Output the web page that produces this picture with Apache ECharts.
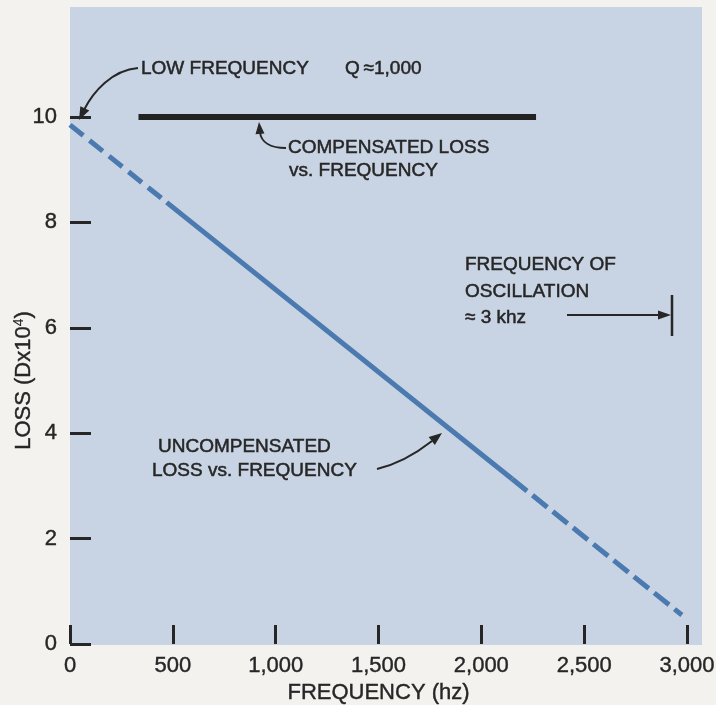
<!DOCTYPE html>
<html><head><meta charset="utf-8">
<script src="https://cdn.jsdelivr.net/npm/echarts@6/dist/echarts.min.js"></script>
<style>html,body{margin:0;padding:0;background:#f4f2ee;}#c{width:716px;height:705px;}</style>
</head><body><div id="c"></div>
<script>
// ---- data ----
const xTicks = [0, 500, 1000, 1500, 2000, 2500, 3000];
const yTicks = [0, 2, 4, 6, 8, 10];
const compensatedFreq = [333, 2266];
const compensatedLoss = [10, 10];
const uncompDashStartFreq = [0, 470];
const uncompDashStartLoss = [9.85, 8.38];
const uncompSolidFreq = [470, 2150];
const uncompSolidLoss = [8.38, 3.13];
const uncompDashEndFreq = [2150, 2975];
const uncompDashEndLoss = [3.13, 0.55];

const INK = '#262626';
const BLUE = '#4a7ab0';
const FONT = 'Liberation Sans, Arial, sans-serif';

function pairs(xs, ys) { return xs.map((x, i) => [x, ys[i]]); }
function head(tip, from, len, half) {
  const dx = tip[0] - from[0], dy = tip[1] - from[1];
  const d = Math.hypot(dx, dy); const ux = dx / d, uy = dy / d;
  const bx = tip[0] - ux * len, by = tip[1] - uy * len;
  return { type: 'polygon', z: 50, shape: { points: [tip, [bx - uy * half, by + ux * half], [bx + uy * half, by - ux * half]] }, style: { fill: INK } };
}
function txt(x, y, s, size) {
  return { type: 'text', z: 50, x: x, y: y, style: { text: s, fill: INK, stroke: INK, lineWidth: 0.5, font: (size || 19) + 'px ' + FONT, textVerticalAlign: 'middle', textAlign: 'left' } };
}
function curve(x1, y1, c1x, c1y, c2x, c2y, x2, y2) {
  return { type: 'bezierCurve', z: 50, shape: { x1: x1, y1: y1, cpx1: c1x, cpy1: c1y, cpx2: c2x, cpy2: c2y, x2: x2, y2: y2 }, style: { stroke: INK, lineWidth: 2, fill: null } };
}

const chart = echarts.init(document.getElementById('c'));
chart.setOption({
  backgroundColor: '#f4f2ee',
  animation: false,
  grid: { left: 70, right: 29, top: 117, bottom: 61, containLabel: false, outerBoundsMode: 'none' },
  xAxis: {
    type: 'value', min: xTicks[0], max: xTicks[xTicks.length - 1], interval: 500,
    axisLine: { show: false },
    axisTick: { show: true, inside: true, length: 19, lineStyle: { color: INK, width: 3 } },
    splitLine: { show: false },
    axisLabel: { fontSize: 22, color: INK, fontFamily: FONT, margin: 11, textBorderColor: INK, textBorderWidth: 0.4,
      formatter: v => v.toLocaleString('en-US') },
    name: 'FREQUENCY (hz)', nameLocation: 'middle', nameGap: 38, nameMoveOverlap: false,
    nameTextStyle: { fontSize: 22, color: INK, fontFamily: FONT, textBorderColor: INK, textBorderWidth: 0.4 }
  },
  yAxis: {
    type: 'value', min: yTicks[0], max: yTicks[yTicks.length - 1], interval: 2, offset: 3,
    axisLine: { show: false },
    axisTick: { show: true, inside: true, length: 21, lineStyle: { color: INK, width: 3 } },
    splitLine: { show: false },
    axisLabel: { fontSize: 22, color: INK, fontFamily: FONT, margin: 10, textBorderColor: INK, textBorderWidth: 0.4 },
    name: '{n|LOSS (Dx10}{s|4}{n|)}', nameLocation: 'middle', nameGap: 32, nameRotate: 90, nameMoveOverlap: false,
    nameTextStyle: {
      rich: {
        n: { fontSize: 22, color: INK, fontFamily: FONT, textBorderColor: INK, textBorderWidth: 0.4 },
        s: { fontSize: 14, color: INK, fontFamily: FONT, verticalAlign: 'top', padding: [0, 0, 9, 0] }
      }
    }
  },
  series: [
    { type: 'line', data: pairs(compensatedFreq, compensatedLoss), symbol: 'none', clip: false, z: 5,
      lineStyle: { color: '#222222', width: 6, cap: 'butt' } },
    { type: 'line', data: pairs(uncompDashStartFreq, uncompDashStartLoss), symbol: 'none', clip: false,
      lineStyle: { color: BLUE, width: 5, type: [17, 8], cap: 'butt' } },
    { type: 'line', data: pairs(uncompSolidFreq, uncompSolidLoss), symbol: 'none', clip: false,
      lineStyle: { color: BLUE, width: 5, cap: 'butt' } },
    { type: 'line', data: pairs(uncompDashEndFreq, uncompDashEndLoss), symbol: 'none', clip: false,
      lineStyle: { color: BLUE, width: 5, type: [19, 7], cap: 'butt' } }
  ],
  graphic: [
    { type: 'rect', z: -100, shape: { x: 70, y: 7, width: 632, height: 638 }, style: { fill: '#c8d4e3' } },
    // LOW FREQUENCY
    txt(141, 69, 'LOW FREQUENCY'),
    txt(345, 69, 'Q\u2009\u22481,000'),
    curve(138, 68, 112, 70, 93, 92, 84, 110),
    head([79, 120], [86, 106], 13, 5),
    // COMPENSATED
    txt(288, 148, 'COMPENSATED LOSS'),
    txt(289, 171, 'vs. FREQUENCY'),
    curve(286, 148, 270, 148, 261, 142, 260, 132),
    head([259, 122], [260, 134], 12, 4.5),
    // FREQUENCY OF OSCILLATION
    txt(465, 265, 'FREQUENCY OF'),
    txt(465, 292, 'OSCILLATION'),
    txt(465, 318, '\u2248 3 khz'),
    { type: 'line', z: 50, shape: { x1: 567, y1: 315, x2: 660, y2: 315 }, style: { stroke: INK, lineWidth: 2 } },
    head([671, 315], [655, 315], 13, 4.5),
    { type: 'line', z: 50, shape: { x1: 672, y1: 295, x2: 672, y2: 336 }, style: { stroke: INK, lineWidth: 2.5 } },
    // UNCOMPENSATED
    txt(158, 447, 'UNCOMPENSATED'),
    txt(152, 471, 'LOSS vs. FREQUENCY'),
    curve(377, 469, 398, 464, 418, 452, 432, 441),
    head([442, 433], [428, 444], 13, 5)
  ]
});
</script>
</body></html>
